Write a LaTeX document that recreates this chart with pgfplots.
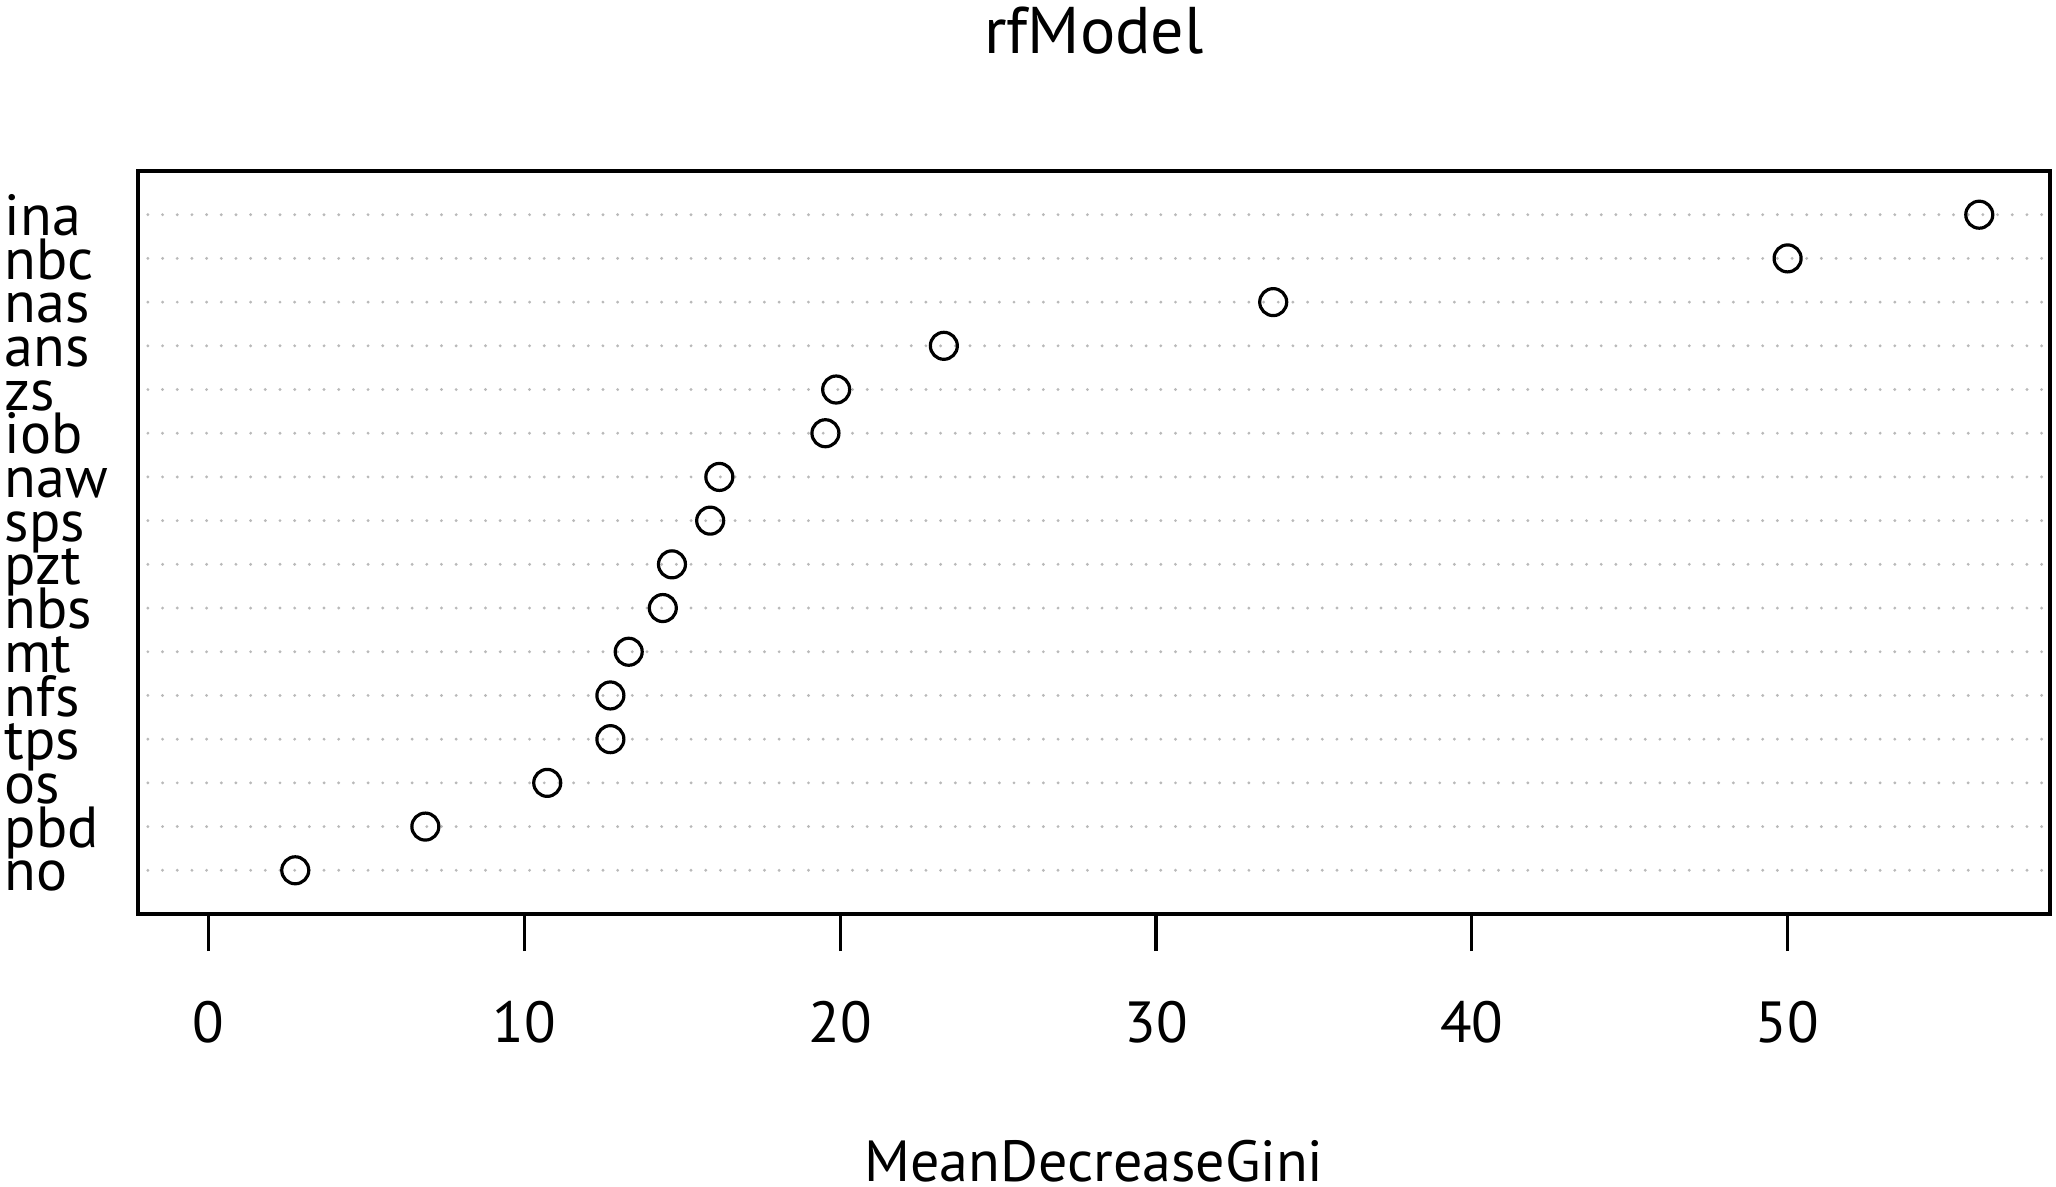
\documentclass[border=0pt]{standalone}
\usepackage{fontspec}
\setmainfont{PT Sans}
\usepackage{pgfplots}
\pgfplotsset{compat=1.18}
\begin{document}
\begin{tikzpicture}
\useasboundingbox (0,0) rectangle (514pt,296.75pt);
\begin{axis}[
  at={(34.5pt,68.25pt)}, anchor=south west,
  scale only axis, width=478pt, height=185.75pt,
  xmin=-2.24, xmax=58.31, ymin=0, ymax=17,
  axis line style={line width=1pt},
  xtick={0,10,20,30,40,50},
  xtick pos=bottom, tick align=outside,
  major tick length=9.25pt,
  x tick style={line width=0.8pt, black},
  /pgf/number format/assume math mode=true,
  xticklabel style={font=\fontsize{14.5}{16}\selectfont, anchor=base, inner sep=0pt, yshift=-22.75pt},
  ytick={1,...,16},
  yticklabels={no,pbd,os,tps,nfs,mt,nbs,pzt,sps,naw,iob,zs,ans,nas,nbc,ina},
  y tick style={draw=none},
  yticklabel style={font=\fontsize{14.5}{16}\selectfont, anchor=base west, inner sep=0pt, xshift=-24.25pt, yshift=-5.15pt},
  ymajorgrids,
  major grid style={draw=gray!55, line width=0.8pt, line cap=round, dash pattern=on 0pt off 3.67pt, dash phase=1.2pt},
  title={rfModel},
  title style={font=\fontsize{16.5}{18}\selectfont, at={(axis description cs:0.5,1.1588)}, anchor=base, inner sep=0pt, yshift=-6pt},
  xlabel={MeanDecreaseGini},
  xlabel style={font=\fontsize{14.5}{16}\selectfont, at={(axis description cs:0.5,-0.360)}, anchor=base, inner sep=0pt},
  clip=false,
]
\addplot[only marks, mark=o, mark size=3.375pt, mark options={line width=0.8pt, fill=white, draw=black}] coordinates {
  (2.74,1) (6.86,2) (10.72,3) (12.72,4) (12.72,5) (13.30,6) (14.38,7) (14.67,8)
  (15.88,9) (16.17,10) (19.53,11) (19.87,12) (23.28,13) (33.71,14) (50.00,15) (56.07,16)
};
\end{axis}
\end{tikzpicture}
\end{document}
